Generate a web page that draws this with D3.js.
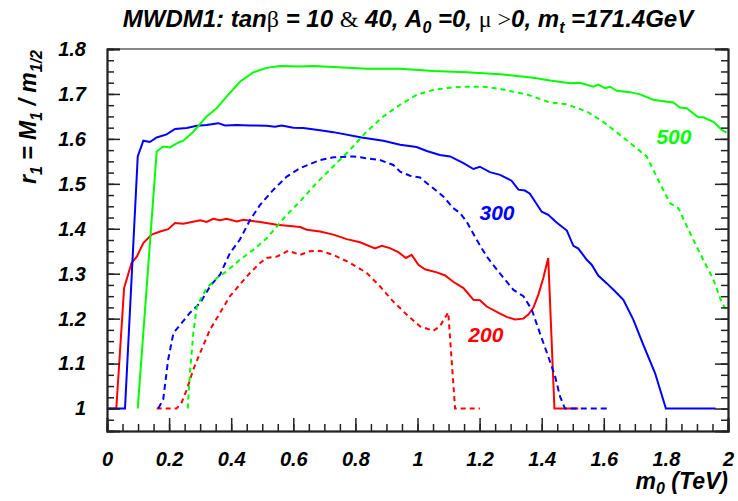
<!DOCTYPE html>
<html><head><meta charset="utf-8">
<script src="https://cdn.jsdelivr.net/npm/d3@7"></script>
<style>
body{margin:0;background:#fff;}
svg{display:block;}
.tk text{font-family:"Liberation Sans",Arial,sans-serif;font-weight:bold;font-style:italic;font-size:20px;fill:#000;}
.lab{font-family:"Liberation Sans",Arial,sans-serif;font-weight:bold;font-style:italic;fill:#000;}
.sym{font-family:"Liberation Serif","DejaVu Serif",serif;font-weight:normal;font-style:normal;}
</style></head>
<body><svg id="c" width="738" height="501"></svg>
<script>
// ---- data ----
const xTicks = [0,0.2,0.4,0.6,0.8,1,1.2,1.4,1.6,1.8,2];
const xTickLabels = ["0","0.2","0.4","0.6","0.8","1","1.2","1.4","1.6","1.8","2"];
const yTicks = [1,1.1,1.2,1.3,1.4,1.5,1.6,1.7,1.8];
const yTickLabels = ["1","1.1","1.2","1.3","1.4","1.5","1.6","1.7","1.8"];

const red10 = [[0,1],[0.03,1],[0.055,1.268],[0.079,1.324],[0.096,1.338],[0.117,1.368],[0.144,1.387],[0.171,1.394],[0.197,1.399],[0.219,1.413],[0.246,1.411],[0.30,1.419],[0.321,1.415],[0.342,1.422],[0.364,1.419],[0.385,1.422],[0.418,1.416],[0.439,1.42],[0.493,1.415],[0.547,1.409],[0.622,1.404],[0.643,1.398],[0.686,1.394],[0.729,1.387],[0.772,1.377],[0.815,1.37],[0.863,1.356],[0.885,1.362],[0.911,1.357],[0.938,1.348],[0.963,1.335],[0.981,1.342],[1.003,1.32],[1.024,1.31],[1.062,1.303],[1.089,1.296],[1.115,1.282],[1.148,1.268],[1.18,1.242],[1.201,1.241],[1.223,1.227],[1.266,1.211],[1.287,1.204],[1.314,1.198],[1.341,1.2],[1.357,1.209],[1.373,1.224],[1.389,1.253],[1.405,1.29],[1.421,1.335],[1.441,1.0],[1.518,1.0]];
const red40 = [[0.16,1.0],[0.224,1.0],[0.24,1.013],[0.257,1.042],[0.278,1.087],[0.30,1.124],[0.332,1.176],[0.364,1.213],[0.396,1.25],[0.428,1.276],[0.461,1.302],[0.493,1.324],[0.514,1.335],[0.547,1.338],[0.584,1.351],[0.622,1.342],[0.654,1.35],[0.686,1.351],[0.729,1.342],[0.783,1.324],[0.836,1.302],[0.879,1.272],[0.922,1.238],[0.965,1.209],[1.008,1.183],[1.051,1.173],[1.072,1.183],[1.099,1.214],[1.121,1.0],[1.201,1.0]];
const blue10 = [[0,1],[0.058,1.0],[0.099,1.561],[0.117,1.596],[0.138,1.593],[0.160,1.603],[0.192,1.610],[0.219,1.622],[0.257,1.624],[0.289,1.629],[0.321,1.631],[0.358,1.635],[0.38,1.630],[0.418,1.631],[0.46,1.630],[0.514,1.629],[0.541,1.627],[0.563,1.630],[0.60,1.625],[0.632,1.624],[0.686,1.619],[0.729,1.615],[0.82,1.603],[0.89,1.596],[0.944,1.587],[0.997,1.582],[1.03,1.573],[1.072,1.564],[1.105,1.561],[1.148,1.546],[1.18,1.533],[1.201,1.538],[1.233,1.526],[1.266,1.52],[1.303,1.507],[1.325,1.487],[1.346,1.485],[1.362,1.478],[1.40,1.438],[1.421,1.431],[1.448,1.414],[1.481,1.396],[1.502,1.362],[1.518,1.356],[1.545,1.331],[1.561,1.32],[1.582,1.296],[1.609,1.279],[1.636,1.261],[1.663,1.242],[1.695,1.198],[1.727,1.142],[1.765,1.079],[1.80,1.0],[1.96,1.0]];
const blue40 = [[0.165,1.0],[0.181,1.02],[0.197,1.109],[0.214,1.168],[0.24,1.19],[0.267,1.213],[0.30,1.235],[0.332,1.272],[0.364,1.298],[0.396,1.346],[0.428,1.376],[0.461,1.42],[0.493,1.453],[0.536,1.487],[0.579,1.516],[0.622,1.535],[0.686,1.553],[0.729,1.559],[0.793,1.561],[0.836,1.557],[0.879,1.553],[0.922,1.542],[0.944,1.527],[0.976,1.518],[1.008,1.514],[1.051,1.49],[1.083,1.472],[1.115,1.446],[1.137,1.435],[1.158,1.416],[1.19,1.376],[1.223,1.338],[1.266,1.30],[1.309,1.264],[1.341,1.25],[1.368,1.22],[1.394,1.168],[1.421,1.116],[1.443,1.072],[1.459,1.027],[1.475,1.0],[1.62,1.0]];
const green10 = [[0.099,1.0],[0.16,1.572],[0.181,1.583],[0.203,1.581],[0.23,1.592],[0.246,1.596],[0.278,1.616],[0.321,1.65],[0.353,1.668],[0.385,1.694],[0.428,1.727],[0.471,1.748],[0.514,1.758],[0.557,1.762],[0.622,1.761],[0.664,1.762],[0.729,1.76],[0.836,1.756],[0.944,1.756],[1.051,1.751],[1.158,1.748],[1.266,1.744],[1.373,1.736],[1.427,1.73],[1.491,1.724],[1.523,1.725],[1.566,1.716],[1.582,1.721],[1.604,1.713],[1.62,1.716],[1.642,1.707],[1.684,1.704],[1.717,1.699],[1.759,1.687],[1.781,1.685],[1.824,1.681],[1.845,1.67],[1.867,1.668],[1.904,1.648],[1.92,1.648],[1.953,1.638],[1.98,1.62],[1.995,1.614]];
const green40 = [[0.26,1.0],[0.267,1.079],[0.278,1.168],[0.289,1.227],[0.321,1.268],[0.353,1.29],[0.385,1.305],[0.428,1.331],[0.471,1.353],[0.514,1.379],[0.547,1.405],[0.579,1.431],[0.622,1.461],[0.675,1.502],[0.729,1.539],[0.783,1.576],[0.836,1.616],[0.89,1.65],[0.944,1.676],[0.997,1.698],[1.051,1.709],[1.105,1.714],[1.158,1.716],[1.212,1.716],[1.266,1.711],[1.352,1.699],[1.427,1.681],[1.48,1.677],[1.545,1.661],[1.598,1.638],[1.652,1.609],[1.706,1.579],[1.738,1.561],[1.77,1.516],[1.813,1.457],[1.84,1.446],[1.878,1.39],[1.92,1.331],[1.953,1.287],[1.98,1.235],[1.995,1.22]];

const seriesNames = ["200","300","500"];
const seriesColors = ["#ff0000","#0000ff","#00ff00"];
const labelPos = [[1.22,1.149],[1.256,1.42],[1.826,1.589]]; // [m0, r] baseline anchor for series labels

// ---- chart ----
const svg = d3.select("#c");
const L=107,R=728,T=49,B=431;
const x = d3.scaleLinear().domain([0,2]).range([L,R]);
const y = d3.scaleLinear().domain([0.95,1.8]).range([B,T]);

const line = d3.line().x(d=>x(d[0])).y(d=>y(d[1]));
const curves = [
  {d:red10,c:0,dash:null},{d:red40,c:0,dash:"5,4"},
  {d:blue10,c:1,dash:null},{d:blue40,c:1,dash:"6,4"},
  {d:green10,c:2,dash:null},{d:green40,c:2,dash:"5,4"}
];
// frame top line
svg.append("line").attr("x1",L).attr("x2",R).attr("y1",T).attr("y2",T).attr("stroke","#888").attr("stroke-width",2);

const gPlot = svg.append("g");
curves.forEach(cv=>{
  gPlot.append("path").attr("d",line(cv.d)).attr("fill","none")
   .attr("stroke",seriesColors[cv.c]).attr("stroke-width",2)
   .attr("stroke-dasharray",cv.dash);
});

// axes
const xMinor = d3.range(0,2.0001,0.05);
const yMinor = d3.range(0.95,1.8001,0.025);
function styleAxis(g){g.selectAll("path,line").attr("stroke","#222").attr("stroke-width",1.5);}
svg.append("g").attr("transform",`translate(0,${B})`)
  .call(d3.axisBottom(x).tickValues(xMinor).tickSize(-7).tickFormat("")).call(styleAxis);
svg.append("g").attr("class","tk").attr("transform",`translate(0,${B})`)
  .call(d3.axisBottom(x).tickValues(xTicks).tickSize(-13).tickPadding(21).tickFormat((d,i)=>xTickLabels[i])).call(styleAxis)
  .call(g=>g.select(".domain").attr("stroke-width",2));
svg.append("g").attr("transform",`translate(${L},0)`)
  .call(d3.axisLeft(y).tickValues(yMinor).tickSize(-7).tickFormat("")).call(styleAxis);
svg.append("g").attr("class","tk").attr("transform",`translate(${L},0)`)
  .call(d3.axisLeft(y).tickValues(yTicks).tickSize(-13).tickPadding(21).tickFormat((d,i)=>yTickLabels[i])).call(styleAxis)
  .call(g=>g.select(".domain").attr("stroke-width",2));
svg.append("g").attr("transform",`translate(${R},0)`)
  .call(d3.axisRight(y).tickValues(yMinor).tickSize(-7).tickFormat("")).call(styleAxis);
svg.append("g").attr("transform",`translate(${R},0)`)
  .call(d3.axisRight(y).tickValues(yTicks).tickSize(-13).tickFormat("")).call(styleAxis)
  .call(g=>g.select(".domain").attr("stroke-width",2));
svg.selectAll(".tk text").attr("font-family",null).attr("font-size",null);

// series labels
seriesNames.forEach((n,i)=>{
  svg.append("text").attr("class","lab").attr("x",x(labelPos[i][0])).attr("y",y(labelPos[i][1]))
    .attr("text-anchor","middle").attr("font-size",21).style("fill",seriesColors[i]).text(n);
});

// title
const t = svg.append("text").attr("class","lab").attr("x",408).attr("y",27).attr("text-anchor","middle").attr("font-size",24);
t.append("tspan").text("MWDM1: tan");
t.append("tspan").attr("class","sym").text("β");
t.append("tspan").text(" = 10 ");
t.append("tspan").attr("class","sym").text("&");
t.append("tspan").text(" 40, A");
t.append("tspan").attr("font-size",16).attr("dy",6).text("0");
t.append("tspan").attr("dy",-6).text(" =0, ");
t.append("tspan").attr("class","sym").text("μ >");
t.append("tspan").text("0, m");
t.append("tspan").attr("font-size",16).attr("dy",6).text("t");
t.append("tspan").attr("dy",-6).text(" =171.4GeV");

// x label
const xl = svg.append("text").attr("class","lab").attr("x",R).attr("y",489).attr("text-anchor","end").attr("font-size",23);
xl.append("tspan").text("m");
xl.append("tspan").attr("font-size",16).attr("dy",5).text("0");
xl.append("tspan").attr("dy",-5).text(" (TeV)");

// y label
const yl = svg.append("text").attr("class","lab").attr("transform","translate(36,117) rotate(-90)").attr("text-anchor","middle").attr("font-size",23);
yl.append("tspan").text("r");
yl.append("tspan").attr("font-size",16).attr("dy",6).text("1");
yl.append("tspan").attr("dy",-6).text(" = M");
yl.append("tspan").attr("font-size",16).attr("dy",6).text("1");
yl.append("tspan").attr("dy",-6).text(" / m");
yl.append("tspan").attr("font-size",16).attr("dy",6).text("1/2");
</script></body></html>
